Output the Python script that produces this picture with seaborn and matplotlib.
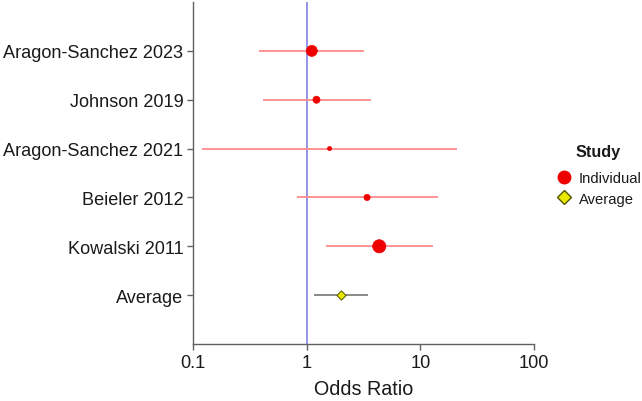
import numpy as np
import pandas as pd
import matplotlib.pyplot as plt
from matplotlib.lines import Line2D
import seaborn as sns

# ── data ──────────────────────────────────────────────────
studies = ["Aragon-Sanchez 2023", "Johnson 2019", "Aragon-Sanchez 2021",
           "Beieler 2012", "Kowalski 2011", "Average"]
odds    = [1.11, 1.22, 1.59, 3.40, 4.35, 1.99]
ci_low  = [0.38, 0.41, 0.12, 0.82, 1.47, 1.15]
ci_high = [3.20, 3.65, 20.9, 14.2, 12.9, 3.44]
weight  = [63, 26, 9, 20, 90, 22]
kind    = ["Individual"] * 5 + ["Average"]

df = pd.DataFrame({"study": studies, "odds": odds, "lo": ci_low,
                   "hi": ci_high, "w": weight, "kind": kind})
df["pos"] = np.arange(len(df))

sns.set_style("white")
plt.rcParams["font.family"] = ["Liberation Sans", "DejaVu Sans"]

fig = plt.figure(figsize=(6.42, 4.02), dpi=100)
ax = fig.add_axes([0.3006, 0.1418, 0.8318 - 0.3006, 0.8507])

# reference line at OR = 1
ax.axvline(1, color="#8c8ce6", lw=1.3, zorder=1)

# confidence intervals
ind = df[df["kind"] == "Individual"]
avg = df[df["kind"] == "Average"]
ax.hlines(ind["pos"], ind["lo"], ind["hi"], color="#ff8a8a", lw=1.3, zorder=2)
ax.hlines(avg["pos"], avg["lo"], avg["hi"], color="#808080", lw=1.3, zorder=2)

# point estimates
sns.scatterplot(data=ind, x="odds", y="pos", s=ind["w"], color="#ee0000",
                edgecolor="#ee0000", linewidth=0.5, ax=ax, zorder=3, legend=False)
sns.scatterplot(data=avg, x="odds", y="pos", s=avg["w"], marker="D",
                color="#e8e800", edgecolor="#555500", linewidth=0.7, ax=ax,
                zorder=3, legend=False)

ax.set_xscale("log")
ax.set_xlim(0.1, 100)
ax.set_xticks([0.1, 1, 10, 100])
ax.set_xticklabels(["0.1", "1", "10", "100"])
ax.minorticks_off()
ax.set_ylim(len(df), -1)
ax.set_yticks(df["pos"])
ax.set_yticklabels(df["study"])

for s in ["top", "right"]:
    ax.spines[s].set_visible(False)
for s in ["left", "bottom"]:
    ax.spines[s].set_color("#606060")
    ax.spines[s].set_linewidth(1.0)

ax.tick_params(axis="both", which="major", length=4, width=1, color="#606060",
               labelsize=13.1, labelcolor="#1a1a1a", left=True, bottom=True, pad=3)
ax.set_xlabel("Odds Ratio", fontsize=14.2, color="#1a1a1a", labelpad=6)
ax.set_ylabel("")

handles = [
    Line2D([], [], marker="o", ls="", color="#ee0000", markersize=9),
    Line2D([], [], marker="D", ls="", markerfacecolor="#e8e800",
           markeredgecolor="#555500", markersize=7),
]
leg = fig.legend(handles, ["Individual", "Average"], title="Study",
                 loc="center left", bbox_to_anchor=(0.848, 0.563), frameon=False,
                 fontsize=10.6, title_fontproperties={"weight": "bold", "size": 11.7},
                 handletextpad=0.45, handlelength=1.2, borderpad=0.2,
                 labelspacing=0.42)
leg.get_title().set_color("#1a1a1a")
for t in leg.get_texts():
    t.set_color("#1a1a1a")
leg._legend_box.sep = 9

plt.savefig("out.png", dpi=100)
plt.close()
